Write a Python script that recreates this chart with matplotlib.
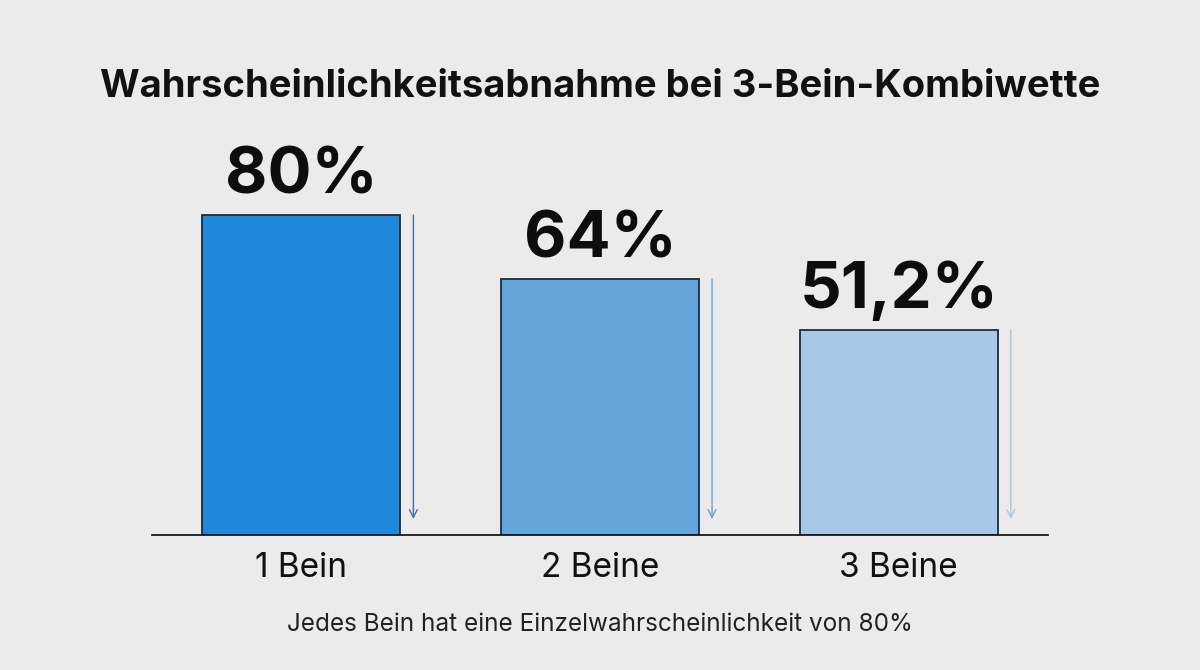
import matplotlib.pyplot as plt

kategorien = ['1 Bein', '2 Beine', '3 Beine']
werte = [80, 64, 51.2]
wert_texte = ['80%', '64%', '51,2%']
titel = 'Wahrscheinlichkeitsabnahme bei 3-Bein-Kombiwette'
fussnote = 'Jedes Bein hat eine Einzelwahrscheinlichkeit von 80%'

farben = ['#1e88db', '#64a6dc', '#a7c8e7']
pfeil_farben = ['#3d72ae', '#6b9fcf', '#a9c6e2']
hintergrund = '#ebebeb'

plt.rcParams['font.family'] = ['Inter', 'DejaVu Sans']

fig = plt.figure(figsize=(12, 6.7), dpi=100, facecolor=hintergrund)
ax = fig.add_axes([0.1267, 0.2015, 0.7467, 0.597])
ax.set_facecolor(hintergrund)

x = list(range(len(werte)))
ax.bar(x, werte, width=0.663, color=farben, edgecolor='#1c2b3d', linewidth=1.3, zorder=2)

for i, v in enumerate(werte):
    ax.annotate('', xy=(i + 0.375, 4), xytext=(i + 0.375, v),
                arrowprops=dict(arrowstyle='->', color=pfeil_farben[i], lw=1.0,
                                mutation_scale=14, shrinkA=0, shrinkB=0))
    ax.text(i, v + 2.2, wert_texte[i], ha='center', va='bottom',
            fontsize=47, fontweight='bold', color='#0d0d0d')

ax.set_xlim(-0.5, 2.5)
ax.set_ylim(0, 100)
for s in ['top', 'right', 'left']:
    ax.spines[s].set_visible(False)
ax.spines['bottom'].set_color('#1a1a1a')
ax.spines['bottom'].set_linewidth(1.3)
ax.set_yticks([])
ax.set_xticks(x)
ax.set_xticklabels(kategorien, fontsize=24, color='#111111')
ax.tick_params(axis='x', length=0, pad=12)

fig.text(0.5, 0.870, titel, ha='center', va='center', fontsize=27.5,
         fontweight='bold', color='#111111')
fig.text(0.5, 0.068, fussnote, ha='center', va='center', fontsize=17.5, color='#222222')

plt.savefig('out.png', dpi=100, facecolor=hintergrund)
